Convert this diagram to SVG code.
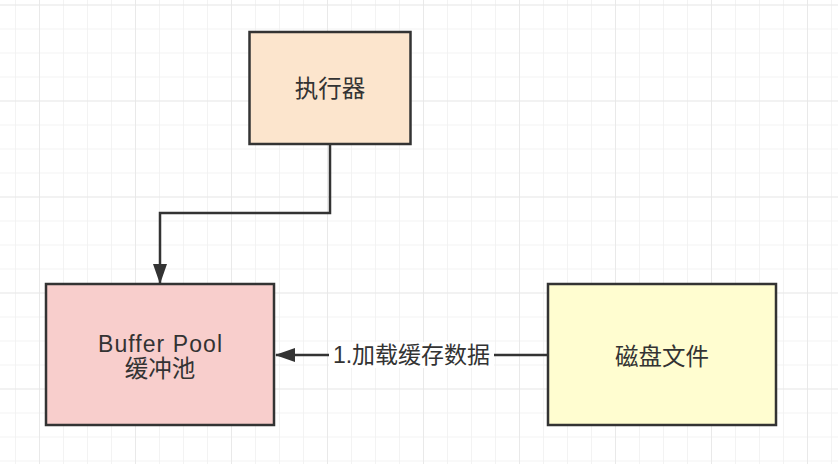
<svg xmlns="http://www.w3.org/2000/svg" width="838" height="464" viewBox="0 0 838 464">
<defs>
<pattern id="minor" x="15" y="4.5" width="24" height="24" patternUnits="userSpaceOnUse">
<path d="M0 0H24M0 0V24" fill="none" stroke="#f0f0f0" stroke-width="1.5"/>
</pattern>
<pattern id="major" x="39" y="4.5" width="96" height="96" patternUnits="userSpaceOnUse">
<path d="M0 0H96M0 0V96" fill="none" stroke="#e6e6e6" stroke-width="1.5"/>
</pattern>
<marker id="arr" markerWidth="20" markerHeight="14" viewBox="0 0 20 14" refX="19" refY="7" orient="auto" markerUnits="userSpaceOnUse">
<path d="M0 0L20 7L0 14Z" fill="#333"/>
</marker>
</defs>
<style>
.box{stroke:#333;stroke-width:2.5}
.t{font-family:"Liberation Sans","Noto Sans CJK SC",sans-serif;font-size:23.5px;fill:#333;text-anchor:middle}
.e{stroke:#333;stroke-width:2.5;fill:none}
</style>
<rect width="838" height="464" fill="#fff"/>
<rect width="838" height="464" fill="url(#minor)"/>
<rect width="838" height="464" fill="url(#major)"/>
<g id="executor">
<rect class="box" x="249.5" y="32" width="161" height="112" fill="#fce5cd"/>
<text class="t" x="330" y="96.5">执行器</text>
</g>
<g id="bufferpool">
<rect class="box" x="46" y="284" width="228" height="141" fill="#f8cecc"/>
<text class="t" x="160" y="352" textLength="124" lengthAdjust="spacing" style="font-size:23px">Buffer Pool</text>
<text class="t" x="160" y="377">缓冲池</text>
</g>
<g id="disk">
<rect class="box" x="548" y="284" width="228" height="141" fill="#fffdd0"/>
<text class="t" x="662" y="364.5">磁盘文件</text>
</g>
<g id="connectors">
<path class="e" d="M330 144V213H160V283" marker-end="url(#arr)"/>
<path class="e" d="M548 355H276" marker-end="url(#arr)"/>
<rect x="329" y="342" width="165" height="26" fill="#fff"/>
<text class="t" x="411.5" y="363" style="font-size:23px">1.加载缓存数据</text>
</g>
</svg>
